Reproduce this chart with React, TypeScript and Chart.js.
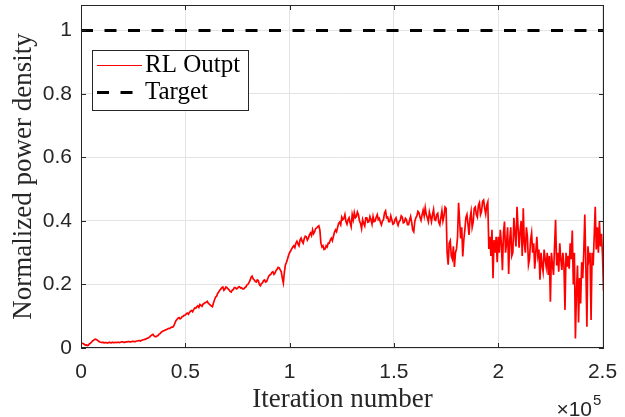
import { useEffect, useRef } from "react";
import { Chart, registerables } from "chart.js";

Chart.register(...registerables);

// ---- data ----
const ITER_STEP = 500;
const RL_OUTPUT = [
  // 0 - 0.1e5
  0.016, 0.015, 0.014, 0.012, 0.009, 0.010, 0.008, 0.009, 0.013, 0.015, 0.018, 0.022, 0.024, 0.027, 0.028, 0.026, 0.024, 0.021, 0.019, 0.018,
  // 0.1 - 0.2e5
  0.017, 0.018, 0.016, 0.017, 0.017, 0.016, 0.016, 0.018, 0.017, 0.016, 0.018, 0.017, 0.017, 0.018, 0.017, 0.018, 0.018, 0.017, 0.018, 0.019,
  // 0.2 - 0.3e5
  0.019, 0.018, 0.018, 0.019, 0.019, 0.020, 0.020, 0.019, 0.019, 0.021, 0.021, 0.020, 0.020, 0.022, 0.022, 0.023, 0.023, 0.022, 0.024, 0.025,
  // 0.3 - 0.4e5
  0.026, 0.027, 0.028, 0.030, 0.031, 0.033, 0.035, 0.039, 0.041, 0.043, 0.038, 0.036, 0.036, 0.038, 0.040, 0.044, 0.046, 0.050, 0.052, 0.054,
  // 0.4 - 0.5e5
  0.055, 0.057, 0.058, 0.060, 0.062, 0.061, 0.064, 0.066, 0.066, 0.070, 0.078, 0.086, 0.090, 0.094, 0.096, 0.092, 0.094, 0.099, 0.100, 0.103,
  // 0.5 - 0.6e5
  0.104, 0.108, 0.110, 0.106, 0.112, 0.116, 0.118, 0.114, 0.121, 0.126, 0.125, 0.130, 0.133, 0.128, 0.137, 0.134, 0.131, 0.138, 0.140, 0.143,
  // 0.6 - 0.7e5
  0.144, 0.147, 0.141, 0.138, 0.135, 0.132, 0.130, 0.142, 0.152, 0.160, 0.163, 0.172, 0.176, 0.182, 0.185, 0.190, 0.192, 0.182, 0.186, 0.192,
  // 0.7 - 0.8e5
  0.190, 0.186, 0.183, 0.178, 0.176, 0.182, 0.184, 0.190, 0.190, 0.186, 0.188, 0.192, 0.193, 0.189, 0.190, 0.186, 0.186, 0.190, 0.192, 0.198,
  // 0.8 - 0.9e5
  0.200, 0.206, 0.212, 0.222, 0.226, 0.218, 0.215, 0.210, 0.208, 0.214, 0.212, 0.200, 0.196, 0.203, 0.205, 0.212, 0.214, 0.208, 0.210, 0.218,
  // 0.9 - 1.0e5
  0.226, 0.230, 0.232, 0.238, 0.240, 0.232, 0.236, 0.244, 0.248, 0.254, 0.252, 0.246, 0.240, 0.220, 0.205, 0.240, 0.262, 0.270, 0.280, 0.292,
  // 1.0 - 1.1e5
  0.300, 0.306, 0.312, 0.318, 0.322, 0.316, 0.330, 0.336, 0.328, 0.322, 0.340, 0.346, 0.336, 0.330, 0.344, 0.352, 0.350, 0.340, 0.346, 0.356,
  // 1.1 - 1.2e5
  0.362, 0.354, 0.372, 0.360, 0.366, 0.376, 0.378, 0.382, 0.385, 0.372, 0.330, 0.318, 0.322, 0.310, 0.312, 0.322, 0.318, 0.330, 0.330, 0.340,
  // 1.2 - 1.3e5
  0.346, 0.338, 0.352, 0.364, 0.372, 0.366, 0.380, 0.392, 0.396, 0.388, 0.412, 0.404, 0.408, 0.420, 0.398, 0.390, 0.404, 0.410, 0.394, 0.382,
  // 1.3 - 1.4e5
  0.420, 0.404, 0.426, 0.410, 0.414, 0.428, 0.420, 0.400, 0.392, 0.376, 0.404, 0.392, 0.384, 0.410, 0.410, 0.396, 0.398, 0.414, 0.404, 0.390,
  // 1.4 - 1.5e5
  0.414, 0.398, 0.400, 0.412, 0.420, 0.404, 0.408, 0.396, 0.388, 0.400, 0.404, 0.426, 0.432, 0.410, 0.412, 0.398, 0.398, 0.416, 0.404, 0.390,
  // 1.5 - 1.6e5
  0.392, 0.404, 0.410, 0.396, 0.386, 0.398, 0.402, 0.416, 0.412, 0.394, 0.396, 0.408, 0.404, 0.388, 0.388, 0.402, 0.414, 0.396, 0.372, 0.366,
  // 1.6 - 1.7e5
  0.398, 0.410, 0.416, 0.430, 0.426, 0.412, 0.402, 0.420, 0.434, 0.416, 0.442, 0.420, 0.410, 0.398, 0.428, 0.414, 0.398, 0.420, 0.436, 0.404,
  // 1.7 - 1.8e5
  0.402, 0.420, 0.424, 0.396, 0.388, 0.410, 0.432, 0.400, 0.416, 0.444, 0.440, 0.300, 0.262, 0.330, 0.338, 0.290, 0.280, 0.320, 0.255, 0.300,
  // 1.8 - 1.9e5
  0.312, 0.350, 0.457, 0.400, 0.345, 0.380, 0.288, 0.340, 0.372, 0.410, 0.420, 0.390, 0.356, 0.410, 0.430, 0.380, 0.396, 0.440, 0.444, 0.420,
  // 1.9 - 2.0e5
  0.412, 0.450, 0.458, 0.420, 0.430, 0.462, 0.466, 0.440, 0.422, 0.450, 0.460, 0.312, 0.350, 0.290, 0.372, 0.220, 0.340, 0.300, 0.350, 0.270,
  // 2.0 - 2.1e5
  0.350, 0.300, 0.372, 0.330, 0.245, 0.360, 0.398, 0.300, 0.330, 0.380, 0.233, 0.340, 0.380, 0.290, 0.300, 0.410, 0.362, 0.320, 0.445, 0.380,
  // 2.1 - 2.2e5
  0.316, 0.370, 0.400, 0.290, 0.440, 0.330, 0.300, 0.380, 0.350, 0.262, 0.280, 0.340, 0.362, 0.300, 0.330, 0.250, 0.300, 0.350, 0.290, 0.310,
  // 2.2 - 2.3e5
  0.215, 0.300, 0.260, 0.240, 0.310, 0.280, 0.256, 0.300, 0.230, 0.290, 0.146, 0.300, 0.262, 0.230, 0.320, 0.404, 0.260, 0.300, 0.240, 0.330,
  // 2.3 - 2.4e5
  0.280, 0.246, 0.300, 0.260, 0.120, 0.300, 0.256, 0.290, 0.250, 0.330, 0.280, 0.370, 0.200, 0.300, 0.030, 0.180, 0.260, 0.080, 0.220, 0.140,
  // 2.4 - 2.5e5
  0.270, 0.220, 0.300, 0.420, 0.260, 0.067, 0.320, 0.280, 0.300, 0.088, 0.300, 0.260, 0.350, 0.445, 0.310, 0.380, 0.300, 0.400, 0.320, 0.360,
  // 2.5e5 -
  0.290, 0.180,
];
const TARGET_VALUE = 1;
const X_MIN = 0;
const X_MAX = 250700;
const Y_MIN = 0;
const Y_MAX = 1.08;
const X_TICKS = [0, 50000, 100000, 150000, 200000, 250000];
const X_TICK_LABELS = ["0", "0.5", "1", "1.5", "2", "2.5"];
const Y_TICKS = [0, 0.2, 0.4, 0.6, 0.8, 1];
const Y_TICK_LABELS = ["0", "0.2", "0.4", "0.6", "0.8", "1"];
const X_LABEL = "Iteration number";
const Y_LABEL = "Normalized power density";
const X_EXPONENT = "5";
const LEGEND_LABELS = ["RL Outpt", "Target"];

const AXIS_COLOR = "#262626";
const GRID_COLOR = "#e4e4e4";
const SERIF = "'Liberation Serif', 'Times New Roman', serif";
const SANS = "'Liberation Sans', Arial, sans-serif";
const DASH = [12, 11.5];

const framePlugin = {
  id: "matlabFrame",
  afterDraw(chart: any) {
    const { ctx, chartArea } = chart;
    const { left, right, top, bottom } = chartArea;
    const xs = chart.scales.x;
    const ys = chart.scales.y;
    ctx.save();
    // box
    ctx.strokeStyle = AXIS_COLOR;
    ctx.lineWidth = 1;
    ctx.setLineDash([]);
    ctx.strokeRect(left + 0.5, top + 0.5, right - left - 1, bottom - top - 1);
    // inward ticks
    const TL = 5;
    ctx.beginPath();
    X_TICKS.forEach((v) => {
      const px = Math.round(xs.getPixelForValue(v)) + 0.5;
      ctx.moveTo(px, bottom);
      ctx.lineTo(px, bottom - TL);
      ctx.moveTo(px, top);
      ctx.lineTo(px, top + TL);
    });
    Y_TICKS.forEach((v) => {
      const py = Math.round(ys.getPixelForValue(v)) + 0.5;
      ctx.moveTo(left, py);
      ctx.lineTo(left + TL, py);
      ctx.moveTo(right, py);
      ctx.lineTo(right - TL, py);
    });
    ctx.stroke();

    // axis titles
    ctx.fillStyle = AXIS_COLOR;
    ctx.font = `27px ${SERIF}`;
    ctx.textAlign = "center";
    ctx.textBaseline = "alphabetic";
    ctx.fillText(X_LABEL, (left + right) / 2, 407);
    ctx.save();
    ctx.translate(31, (top + bottom) / 2);
    ctx.rotate(-Math.PI / 2);
    ctx.fillText(Y_LABEL, 0, 0);
    ctx.restore();

    // exponent (x10^5)
    ctx.textAlign = "left";
    ctx.font = `21px ${SANS}`;
    const base = "\u00d710";
    const bw = ctx.measureText(base).width;
    const bx = 592 - bw;
    ctx.fillText(base, bx, 416);
    ctx.font = `15px ${SANS}`;
    ctx.fillText(X_EXPONENT, bx + bw + 1, 405);

    // legend
    const lx = 92, ly = 50, lw = 156, lh = 60;
    ctx.fillStyle = "#ffffff";
    ctx.fillRect(lx, ly, lw, lh);
    ctx.strokeStyle = AXIS_COLOR;
    ctx.lineWidth = 1;
    ctx.strokeRect(lx + 0.5, ly + 0.5, lw, lh);
    ctx.beginPath();
    ctx.strokeStyle = "#ff0000";
    ctx.lineWidth = 1;
    ctx.moveTo(97, 65.5);
    ctx.lineTo(142, 65.5);
    ctx.stroke();
    ctx.beginPath();
    ctx.strokeStyle = "#000000";
    ctx.lineWidth = 3;
    ctx.setLineDash(DASH);
    ctx.moveTo(97, 92.5);
    ctx.lineTo(142, 92.5);
    ctx.stroke();
    ctx.setLineDash([]);
    ctx.fillStyle = "#000000";
    ctx.font = `25px ${SERIF}`;
    ctx.fillText(LEGEND_LABELS[0], 145, 72);
    ctx.fillText(LEGEND_LABELS[1], 145, 99);
    ctx.restore();
  },
};

export default function App() {
  const ref = useRef<HTMLCanvasElement | null>(null);
  useEffect(() => {
    if (!ref.current) return;
    const rlData = RL_OUTPUT.map((v, i) => ({ x: i * ITER_STEP, y: v }));
    const targetData = [
      { x: X_MIN, y: TARGET_VALUE },
      { x: X_MAX, y: TARGET_VALUE },
    ];
    const chart = new Chart(ref.current, {
      type: "line",
      data: {
        datasets: [
          {
            label: LEGEND_LABELS[0],
            data: rlData,
            borderColor: "#ff0000",
            borderWidth: 1.7,
            pointRadius: 0,
            tension: 0,
            fill: false,
          },
          {
            label: LEGEND_LABELS[1],
            data: targetData,
            borderColor: "#000000",
            borderWidth: 3,
            borderDash: DASH,
            pointRadius: 0,
            fill: false,
          },
        ],
      },
      options: {
        animation: false,
        responsive: false,
        devicePixelRatio: 1,
        parsing: false as any,
        layout: { padding: { left: 0, right: 21, top: 5, bottom: 0 } },
        plugins: {
          legend: { display: false },
          tooltip: { enabled: false },
        },
        scales: {
          x: {
            type: "linear",
            min: X_MIN,
            max: X_MAX,
            afterBuildTicks: (s: any) => {
              s.ticks = X_TICKS.map((v) => ({ value: v }));
            },
            afterFit: (s: any) => {
              s.height = 69;
              s.paddingLeft = 0;
              s.paddingRight = 0;
            },
            ticks: {
              color: AXIS_COLOR,
              font: { family: SANS, size: 21 },
              padding: 12,
              maxRotation: 0,
              autoSkip: false,
              callback: (v: any) => X_TICK_LABELS[X_TICKS.indexOf(Number(v))] ?? "",
            },
            grid: { color: GRID_COLOR, lineWidth: 1, drawTicks: false },
            border: { display: false },
          },
          y: {
            type: "linear",
            min: Y_MIN,
            max: Y_MAX,
            afterBuildTicks: (s: any) => {
              s.ticks = Y_TICKS.map((v) => ({ value: v }));
            },
            afterFit: (s: any) => {
              s.width = 81;
              s.paddingTop = 0;
              s.paddingBottom = 0;
            },
            ticks: {
              color: AXIS_COLOR,
              font: { family: SANS, size: 21 },
              padding: 9,
              autoSkip: false,
              callback: (v: any) => {
                const i = Y_TICKS.findIndex((t) => Math.abs(t - Number(v)) < 1e-9);
                return i >= 0 ? Y_TICK_LABELS[i] : "";
              },
            },
            grid: { color: GRID_COLOR, lineWidth: 1, drawTicks: false },
            border: { display: false },
          },
        },
      },
      plugins: [framePlugin],
    });
    return () => chart.destroy();
  }, []);
  return (
    <div style={{ position: "fixed", left: 0, top: 0, width: 625, height: 417, background: "#fff" }}>
      <canvas ref={ref} width={625} height={417} style={{ display: "block", width: 625, height: 417 }} />
    </div>
  );
}
